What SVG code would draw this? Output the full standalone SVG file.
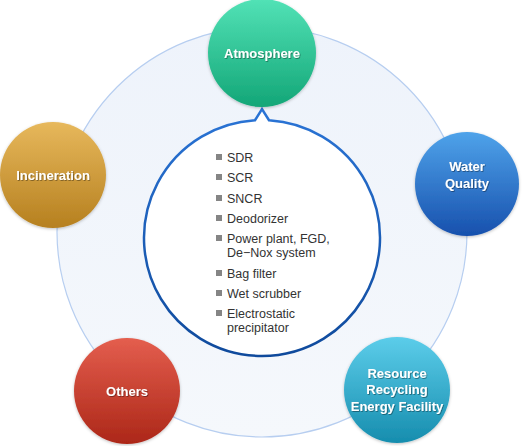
<svg xmlns="http://www.w3.org/2000/svg" width="524" height="446" viewBox="0 0 524 446">
<defs>
<linearGradient id="gGreen" x1="0" y1="0" x2="0" y2="1"><stop offset="0" stop-color="#52e2b6"/><stop offset="1" stop-color="#13a677"/></linearGradient>
<linearGradient id="gGold" x1="0" y1="0" x2="0" y2="1"><stop offset="0" stop-color="#e7b85c"/><stop offset="1" stop-color="#b6801f"/></linearGradient>
<linearGradient id="gBlue" x1="0" y1="0" x2="0" y2="1"><stop offset="0" stop-color="#4fa3ea"/><stop offset="1" stop-color="#1750ad"/></linearGradient>
<linearGradient id="gRed" x1="0" y1="0" x2="0" y2="1"><stop offset="0" stop-color="#e45e4e"/><stop offset="1" stop-color="#ac2718"/></linearGradient>
<linearGradient id="gCyan" x1="0" y1="0" x2="0" y2="1"><stop offset="0" stop-color="#5ccdea"/><stop offset="1" stop-color="#168dae"/></linearGradient>
<linearGradient id="gBg" x1="0" y1="0" x2="0" y2="1"><stop offset="0" stop-color="#eef3fb"/><stop offset="1" stop-color="#f5f8fc"/></linearGradient>
<linearGradient id="gRim" x1="0" y1="0" x2="0" y2="1"><stop offset="0" stop-color="#2a74d6"/><stop offset="1" stop-color="#0f4a9c"/></linearGradient>
<filter id="shadow" x="-20%" y="-20%" width="140%" height="140%"><feDropShadow dx="0" dy="1" stdDeviation="1.5" flood-color="#000" flood-opacity="0.25"/></filter>
<filter id="tshadow" x="-10%" y="-30%" width="120%" height="160%"><feDropShadow dx="0.8" dy="0.8" stdDeviation="0.5" flood-color="#000" flood-opacity="0.45"/></filter>
<style>
.node circle{filter:url(#shadow)}
.lbl{font-family:"Liberation Sans",Arial,sans-serif;font-size:13px;font-weight:bold;fill:#fff;text-anchor:middle;filter:url(#tshadow)}
.item{font-family:"Liberation Sans",Arial,sans-serif;font-size:12.5px;fill:#333}
.bul{fill:#858585}
</style>
</defs>
<g id="background">
<circle cx="262" cy="232" r="205" fill="url(#gBg)" stroke="#b7cef0" stroke-width="1.2"/>
</g>
<g id="center">
<path d="M269,120.2 A118,118 0 1 1 255,120.2 L262,109 Z" fill="#fff" stroke="url(#gRim)" stroke-width="2.5" stroke-linejoin="miter"/>
<g>
<rect class="bul" x="216" y="154" width="6" height="6"/><text class="item" x="227" y="162">SDR</text>
<rect class="bul" x="216" y="174" width="6" height="6"/><text class="item" x="227" y="182">SCR</text>
<rect class="bul" x="216" y="195" width="6" height="6"/><text class="item" x="227" y="203">SNCR</text>
<rect class="bul" x="216" y="215" width="6" height="6"/><text class="item" x="227" y="223">Deodorizer</text>
<rect class="bul" x="216" y="235" width="6" height="6"/><text class="item" x="227" y="243">Power plant, FGD,</text>
<text class="item" x="227" y="257">De−Nox system</text>
<rect class="bul" x="216" y="270" width="6" height="6"/><text class="item" x="227" y="278">Bag filter</text>
<rect class="bul" x="216" y="290" width="6" height="6"/><text class="item" x="227" y="298">Wet scrubber</text>
<rect class="bul" x="216" y="310" width="6" height="6"/><text class="item" x="227" y="318">Electrostatic</text>
<text class="item" x="227" y="332">precipitator</text>
</g>
</g>
<g id="connectors"></g>
<g id="atmosphere" class="node"><circle cx="262" cy="53" r="54" fill="url(#gGreen)"/><text class="lbl" x="262" y="58">Atmosphere</text></g>
<g id="incineration" class="node"><circle cx="53" cy="175" r="53" fill="url(#gGold)"/><text class="lbl" x="53" y="180">Incineration</text></g>
<g id="water" class="node"><circle cx="467" cy="184" r="52" fill="url(#gBlue)"/><text class="lbl" x="467" y="171">Water</text><text class="lbl" x="467" y="188">Quality</text></g>
<g id="others" class="node"><circle cx="127" cy="391" r="53" fill="url(#gRed)"/><text class="lbl" x="127" y="396">Others</text></g>
<g id="resource" class="node"><circle cx="397" cy="390" r="53" fill="url(#gCyan)"/><text class="lbl" x="397" y="378">Resource</text><text class="lbl" x="397" y="394">Recycling</text><text class="lbl" x="397" y="411">Energy Facility</text></g>
</svg>
